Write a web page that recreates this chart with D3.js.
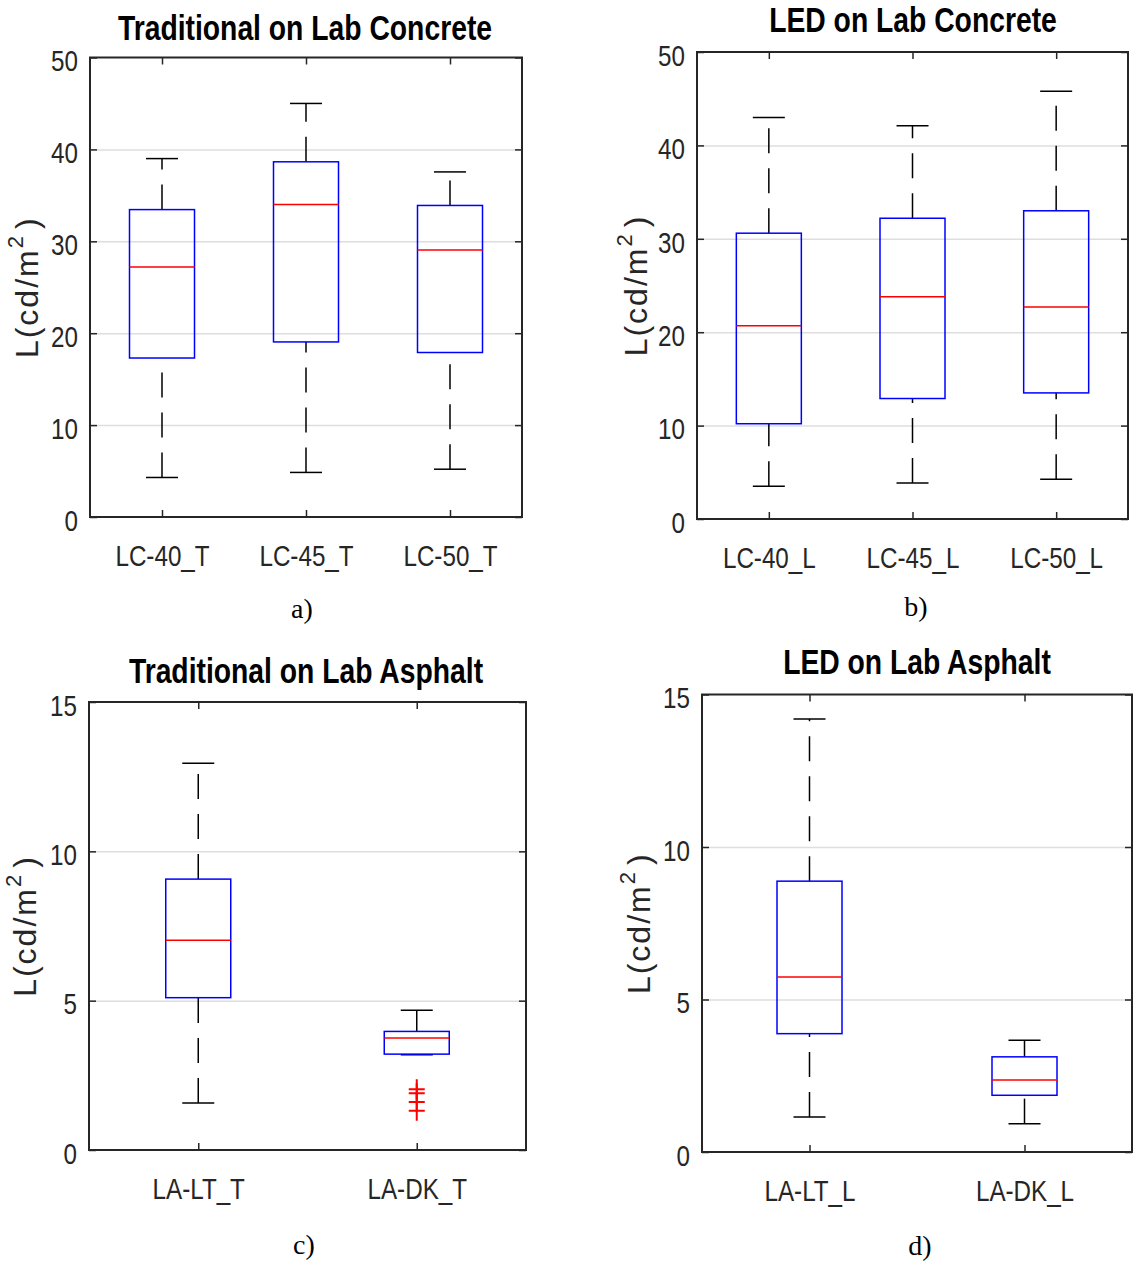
<!DOCTYPE html>
<html><head><meta charset="utf-8">
<script src="https://cdn.jsdelivr.net/npm/d3@7"></script>
<style>
body{margin:0;background:#fff}
svg{display:block}
</style></head><body>
<svg id="chart" width="1136" height="1264"></svg>
<script>
// ---------- DATA ----------
const titles = ["Traditional on Lab Concrete", "LED on Lab Concrete", "Traditional on Lab Asphalt", "LED on Lab Asphalt"];
const captions = ["a)", "b)", "c)", "d)"];
const yLabelMain = "L(cd/m";
const yLabelSup = "2";
const yLabelEnd = ")";

const concreteTicks = [0, 10, 20, 30, 40, 50];
const asphaltTicks = [0, 5, 10, 15];

// a) Traditional on Lab Concrete
const catsA = ["LC-40_T", "LC-45_T", "LC-50_T"];
const minA = [4.3, 4.85, 5.2];
const q1A = [17.3, 19.05, 17.9];
const medA = [27.2, 34.0, 29.05];
const q3A = [33.45, 38.65, 33.9];
const maxA = [39.0, 45.0, 37.55];
const outA = [[], [], []];

// b) LED on Lab Concrete
const catsB = ["LC-40_L", "LC-45_L", "LC-50_L"];
const minB = [3.5, 3.85, 4.25];
const q1B = [10.2, 12.9, 13.5];
const medB = [20.7, 23.8, 22.7];
const q3B = [30.6, 32.2, 33.0];
const maxB = [43.0, 42.1, 45.8];
const outB = [[], [], []];

// c) Traditional on Lab Asphalt
const catsC = ["LA-LT_T", "LA-DK_T"];
const minC = [1.57, 3.19];
const q1C = [5.1, 3.21];
const medC = [7.02, 3.75];
const q3C = [9.07, 3.97];
const maxC = [12.95, 4.68];
const outC = [[], [2.03, 1.9, 1.61, 1.31]];

// d) LED on Lab Asphalt
const catsD = ["LA-LT_L", "LA-DK_L"];
const minD = [1.15, 0.93];
const q1D = [3.88, 1.86];
const medD = [5.74, 2.36];
const q3D = [8.88, 3.12];
const maxD = [14.2, 3.66];
const outD = [[], []];

// ---------- LAYOUT ----------
const SANS = '"Liberation Sans",Arial,Helvetica,sans-serif';
const SERIF = '"Liberation Serif","Times New Roman",serif';
const AX = "#262626";
const NARROW_F = 0.82; // Arial Narrow = Arial condensed to 82%

const panels = [
  {cats: catsA, mn: minA, q1: q1A, md: medA, q3: q3A, mx: maxA, out: outA, ticks: concreteTicks, yMax: 50,
   left: 90, right: 522, top: 57.5, bottom: 517, title: titles[0], titleX: 305, titleY: 40,
   cap: captions[0], capX: 302, capY: 618, ylabX: 38},
  {cats: catsB, mn: minB, q1: q1B, md: medB, q3: q3B, mx: maxB, out: outB, ticks: concreteTicks, yMax: 50,
   left: 697, right: 1128, top: 52, bottom: 519, title: titles[1], titleX: 913, titleY: 32,
   cap: captions[1], capX: 916, capY: 616, ylabX: 647},
  {cats: catsC, mn: minC, q1: q1C, md: medC, q3: q3C, mx: maxC, out: outC, ticks: asphaltTicks, yMax: 15,
   left: 89, right: 526, top: 702, bottom: 1150, title: titles[2], titleX: 306, titleY: 683,
   cap: captions[2], capX: 304, capY: 1254, ylabX: 36},
  {cats: catsD, mn: minD, q1: q1D, md: medD, q3: q3D, mx: maxD, out: outD, ticks: asphaltTicks, yMax: 15,
   left: 702, right: 1132, top: 694.5, bottom: 1152, title: titles[3], titleX: 917, titleY: 674,
   cap: captions[3], capX: 920, capY: 1255, ylabX: 650}
];

const svg = d3.select("#chart");
const BOXW = 65, CAPW = 32;

function condense(sel) {
  sel.each(function () {
    const L = this.getComputedTextLength();
    d3.select(this).attr("textLength", L * NARROW_F).attr("lengthAdjust", "spacingAndGlyphs");
  });
}
function styleAxis(sel) {
  sel.select(".domain").remove();
  sel.selectAll(".tick line").attr("stroke", AX).attr("stroke-width", 1.5);
}

panels.forEach(p => {
  const g = svg.append("g");
  const x = d3.scalePoint().domain(p.cats).range([p.left, p.right]).padding(0.5);
  const y = d3.scaleLinear().domain([0, p.yMax]).range([p.bottom, p.top]);
  const w = p.right - p.left;

  // grid
  g.append("g").attr("transform", `translate(${p.left},0)`)
    .call(d3.axisLeft(y).tickValues(p.ticks.filter(t => t > 0 && t < p.yMax)).tickSize(-w).tickFormat(""))
    .call(s => { s.select(".domain").remove(); s.selectAll("line").attr("stroke", "#dedede").attr("stroke-width", 1.5); });

  // boxes
  p.cats.forEach((c, i) => {
    const cx = x(c);
    const bg = g.append("g");
    [[p.mn[i], p.q1[i]], [p.q3[i], p.mx[i]]].forEach(([lo, hi]) => {
      bg.append("path").attr("d", `M${cx},${y(lo)}V${y(hi)}`)
        .attr("stroke", "#000").attr("stroke-width", 1.5).attr("fill", "none")
        .attr("stroke-dasharray", "25,15");
    });
    [p.mn[i], p.mx[i]].forEach(v => {
      bg.append("line").attr("x1", cx - CAPW / 2).attr("x2", cx + CAPW / 2)
        .attr("y1", y(v)).attr("y2", y(v)).attr("stroke", "#000").attr("stroke-width", 1.5);
    });
    bg.append("rect").attr("x", cx - BOXW / 2).attr("width", BOXW)
      .attr("y", y(p.q3[i])).attr("height", y(p.q1[i]) - y(p.q3[i]))
      .attr("fill", "none").attr("stroke", "#0000ff").attr("stroke-width", 1.5);
    bg.append("line").attr("x1", cx - BOXW / 2).attr("x2", cx + BOXW / 2)
      .attr("y1", y(p.md[i])).attr("y2", y(p.md[i])).attr("stroke", "#ff0000").attr("stroke-width", 1.5);
    p.out[i].forEach(v => {
      bg.append("path").attr("d", `M${cx - 8},${y(v)}H${cx + 8}M${cx},${y(v) - 10}V${y(v) + 10}`)
        .attr("stroke", "#ff0000").attr("stroke-width", 2).attr("fill", "none");
    });
  });

  // ticks
  g.append("g").attr("transform", `translate(${p.left},0)`)
    .call(d3.axisLeft(y).tickValues(p.ticks).tickSizeInner(-7).tickSizeOuter(0).tickPadding(12))
    .call(styleAxis)
    .call(s => s.selectAll("text").attr("font-family", SANS).attr("font-size", 29.5).attr("fill", AX).attr("dy", "0.45em").call(condense));
  g.append("g").attr("transform", `translate(${p.right},0)`)
    .call(d3.axisRight(y).tickValues(p.ticks).tickSizeInner(-7).tickSizeOuter(0).tickFormat(""))
    .call(styleAxis);
  g.append("g").attr("transform", `translate(0,${p.top})`)
    .call(d3.axisTop(x).tickSizeInner(-7).tickSizeOuter(0).tickFormat(""))
    .call(styleAxis);
  g.append("g").attr("transform", `translate(0,${p.bottom})`)
    .call(d3.axisBottom(x).tickSizeInner(-7).tickSizeOuter(0))
    .call(styleAxis)
    .call(s => s.selectAll("text").attr("font-family", SANS).attr("font-size", 29.5).attr("fill", AX).attr("y", 49).attr("dy", 0).call(condense));

  // frame
  g.append("rect").attr("x", p.left).attr("y", p.top).attr("width", w).attr("height", p.bottom - p.top)
    .attr("fill", "none").attr("stroke", AX).attr("stroke-width", 2);

  // title
  g.append("text").attr("x", p.titleX).attr("y", p.titleY).attr("text-anchor", "middle")
    .attr("font-family", SANS).attr("font-weight", "bold").attr("font-size", 34.5).attr("fill", "#000")
    .text(p.title).call(condense);

  // y label
  const yl = g.append("text").attr("transform", `translate(${p.ylabX},${(p.top + p.bottom) / 2}) rotate(-90)`)
    .attr("text-anchor", "middle").attr("font-family", SANS).attr("font-size", 32)
    .attr("letter-spacing", 2).attr("fill", AX);
  yl.append("tspan").text(yLabelMain);
  yl.append("tspan").attr("dy", -15).attr("font-size", 22).text(yLabelSup);
  yl.append("tspan").attr("dy", 15).attr("dx", 5).text(yLabelEnd);

  // caption
  g.append("text").attr("x", p.capX).attr("y", p.capY).attr("text-anchor", "middle")
    .attr("font-family", SERIF).attr("font-size", 28).attr("fill", "#000").text(p.cap);
});
</script>
</body></html>
